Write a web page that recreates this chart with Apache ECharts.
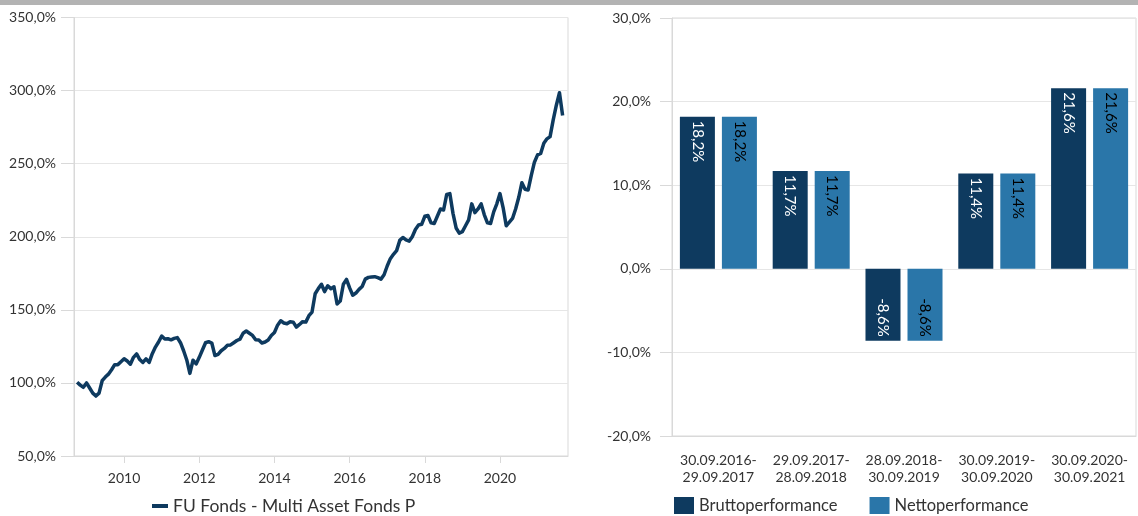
<!DOCTYPE html>
<html>
<head>
<meta charset="utf-8">
<title>Fonds Performance</title>
<script src="https://cdn.jsdelivr.net/npm/echarts@6/dist/echarts.min.js"></script>
<style>
    html, body { margin: 0; padding: 0; background: #fff; }
    #main { width: 1138px; height: 516px; }
</style>
</head>
<body>
<div id="main"></div>
<script>
// Wertentwicklung seit Auflage, monatlich ab 10/2008 (in %)
var fundName = 'FU Fonds - Multi Asset Fonds P'
var startYear = 2008, startMonth = 9   // Oktober 2008 (0-basiert)
var fundValues = [
    100.5, 98.5, 97, 100, 96.5, 93, 91, 93, 101.5, 104, 106, 109,
    112.5, 112.5, 114.5, 116.5, 115, 112.8, 117.5, 119.8, 116, 114, 116.5, 114,
    120, 124.5, 128, 132, 130, 130.2, 129.5, 130.5, 131, 127.5, 122, 115.7,
    106.5, 115.5, 113, 117.5, 122.5, 127.5, 128.2, 127.3, 118.7, 119.5, 122, 123.6,
    125.8, 126, 127.5, 129, 130, 134, 135.5, 134, 132.5, 129.5, 129.4, 127.3,
    128, 129.4, 132.5, 134.5, 139.5, 142.5, 141, 140.5, 141.9, 141.6, 138.2, 140,
    141.9, 141.6, 146, 148.5, 161, 164.5, 167.5, 162.5, 166.5, 164.5, 165.8, 154,
    156, 167.5, 170.8, 165, 160, 161.5, 164, 166, 171, 172.2, 172.5, 172.7,
    172, 171, 174, 180, 185, 188, 190.5, 197.5, 199.5, 197.8, 197, 200,
    205, 208, 208.5, 214, 214.5, 209.5, 209, 214, 219, 218.3, 229, 229.5,
    216, 206, 202.5, 203.5, 207.5, 211.5, 222.5, 216.5, 219, 222.5, 215, 209.5,
    209, 217, 222.5, 229.5, 220, 207.5, 210, 212.5, 219, 227, 237, 232.5,
    232, 242, 251, 256, 257, 264, 267, 268.5, 280, 290, 298.5, 283
]
var yearTicks = [2010, 2012, 2014, 2016, 2018, 2020]

// Rollierende 12-Monats-Performance
var periods = [
    '30.09.2016-\n29.09.2017',
    '29.09.2017-\n28.09.2018',
    '28.09.2018-\n30.09.2019',
    '30.09.2019-\n30.09.2020',
    '30.09.2020-\n30.09.2021'
]
var bruttoValues = [18.2, 11.7, -8.6, 11.4, 21.6]
var nettoValues = [18.2, 11.7, -8.6, 11.4, 21.6]

var dark = '#0e3a5f'
var light = '#2a76a9'
var font = 'Lato'

function pct(v) {
    return v.toFixed(1).replace('.', ',') + '%'
}

// Zeitreihe als [Jahr, Wert]
function lineData() {
    var out = []
    for (var i = 0; i < fundValues.length; i++) {
        out.push([startYear + (startMonth + i) / 12, fundValues[i]])
    }
    return out
}

function barSeries(name, values, color, textColor) {
    return {
        name: name,
        type: 'bar',
        xAxisIndex: 1,
        yAxisIndex: 1,
        barGap: '20%',
        barCategoryGap: '17%',
        itemStyle: { color: color },
        data: values.map(function (v) {
            var d = { value: v }
            // negative Balken: Beschriftung unten
            if (v < 0) {
                d.label = { position: 'insideBottom', align: 'right' }
            }
            return d
        }),
        label: {
            show: true,
            position: 'insideTop',
            rotate: -90,
            align: 'left',
            verticalAlign: 'middle',
            distance: 4,
            color: textColor,
            fontFamily: font,
            fontSize: 15,
            formatter: function (p) { return pct(p.value) }
        }
    }
}

var axisText = { color: '#333', fontFamily: font, fontSize: 14 }

var myChart = echarts.init(document.getElementById('main'))
var option = {
    animation: false,
    graphic: [{
        type: 'rect',
        left: 0, top: 0,
        shape: { width: 1138, height: 5 },
        style: { fill: '#b3b3b3' }
    }],
    legend: [{
        data: [fundName],
        left: 147, top: 492,
        icon: 'rect',
        itemWidth: 16, itemHeight: 4,
        textStyle: { color: '#333', fontFamily: font, fontSize: 17.5 }
    }, {
        data: ['Bruttoperformance', 'Nettoperformance'],
        left: 669, top: 492,
        icon: 'rect',
        itemWidth: 20, itemHeight: 17,
        itemGap: 32,
        textStyle: { color: '#333', fontFamily: font, fontSize: 16.5 }
    }],
    grid: [{
        left: 74, right: 570, top: 17.5, bottom: 60,
        show: true, borderColor: '#d9d9d9', borderWidth: 1
    }, {
        left: 672, right: 2, top: 18, bottom: 80,
        show: true, borderColor: '#d9d9d9', borderWidth: 1
    }],
    xAxis: [{
        type: 'value',
        gridIndex: 0,
        min: 2008.667, max: 2021.81,
        axisLine: { lineStyle: { color: '#d9d9d9' } },
        axisTick: { length: 7, lineStyle: { color: '#d9d9d9' }, customValues: yearTicks },
        axisLabel: Object.assign({
            margin: 15,
            customValues: yearTicks,
            formatter: function (v) { return String(Math.round(v)) }
        }, axisText),
        splitLine: { show: false }
    }, {
        type: 'category',
        gridIndex: 1,
        data: periods,
        axisLine: { onZero: false, lineStyle: { color: '#d9d9d9' } },
        axisTick: { length: 7, lineStyle: { color: '#d9d9d9' } },
        axisLabel: Object.assign({ margin: 16, lineHeight: 17, interval: 0 }, axisText)
    }],
    yAxis: [{
        type: 'value',
        gridIndex: 0,
        min: 50, max: 350, interval: 50,
        axisLine: { show: true, lineStyle: { color: '#d9d9d9' } },
        axisTick: { show: true, length: 13, lineStyle: { color: '#d9d9d9' } },
        axisLabel: Object.assign({ margin: 18, formatter: pct }, axisText),
        splitLine: { lineStyle: { color: '#e6e6e6' } }
    }, {
        type: 'value',
        gridIndex: 1,
        min: -20, max: 30, interval: 10,
        axisLine: { show: true, lineStyle: { color: '#d9d9d9' } },
        axisTick: { show: true, length: 12, lineStyle: { color: '#d9d9d9' } },
        axisLabel: Object.assign({ margin: 21, formatter: pct }, axisText),
        splitLine: { lineStyle: { color: '#e6e6e6' } }
    }],
    series: [{
        name: fundName,
        type: 'line',
        xAxisIndex: 0,
        yAxisIndex: 0,
        showSymbol: false,
        color: dark,
        lineStyle: { width: 3.5, color: dark, join: 'round' },
        data: lineData()
    },
        barSeries('Bruttoperformance', bruttoValues, dark, '#fff'),
        barSeries('Nettoperformance', nettoValues, light, '#000')
    ]
}
myChart.setOption(option)
</script>
</body>
</html>
